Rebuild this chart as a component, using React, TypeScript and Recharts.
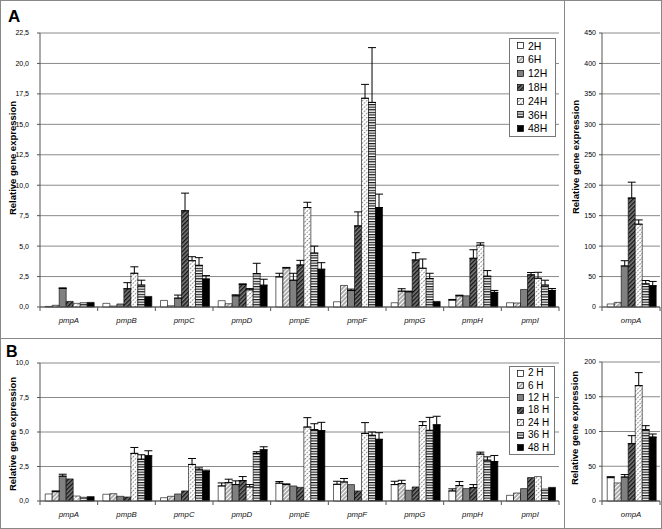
import React from "react";
import { BarChart, Bar, XAxis, YAxis, CartesianGrid, ErrorBar } from "recharts";

const FONT = '"Liberation Sans", Arial, sans-serif';

const genes = ["pmpA", "pmpB", "pmpC", "pmpD", "pmpE", "pmpF", "pmpG", "pmpH", "pmpI"];
const ompGenes = ["ompA"];
const legendA = ["2H", "6H", "12H", "18H", "24H", "36H", "48H"];
const legendB = ["2 H", "6 H", "12 H", "18 H", "24 H", "36 H", "48 H"];

const ticksA = [0, 2.5, 5, 7.5, 10, 12.5, 15, 17.5, 20, 22.5];
const ticksOmpA = [0, 50, 100, 150, 200, 250, 300, 350, 400, 450];
const ticksB = [0, 2.5, 5, 7.5, 10];
const ticksOmpB = [0, 50, 100, 150, 200];

// panel A, pmp genes (value, upper error)
const a2H = [0.05, 0.3, 0.54, 0.52, 2.47, 0.43, 0.35, 0.57, 0.35];
const a6H = [0.14, 0.08, 0.1, 0.27, 3.2, 1.77, 1.3, 0.92, 0.33];
const a12H = [1.52, 0.25, 0.73, 0.92, 2.2, 1.36, 1.25, 0.92, 1.44];
const a18H = [0.46, 1.5, 7.9, 1.85, 3.45, 6.66, 3.86, 4.0, 2.64];
const a24H = [0.3, 2.77, 3.8, 1.41, 8.17, 17.14, 3.18, 5.08, 2.36];
const a36H = [0.35, 1.8, 3.42, 2.74, 4.43, 16.8, 2.34, 2.53, 1.8];
const a48H = [0.38, 0.87, 2.3, 1.79, 3.1, 8.17, 0.46, 1.2, 1.36];
const a2HErr = [0, 0, 0, 0, 0.3, 0, 0, 0.05, 0];
const a6HErr = [0, 0, 0, 0, 0.05, 0, 0.2, 0.05, 0];
const a12HErr = [0.05, 0, 0.25, 0.08, 0.57, 0.11, 0.05, 0, 0];
const a18HErr = [0, 0.5, 1.45, 0.05, 0.38, 1.15, 0.6, 0.7, 0.19];
const a24HErr = [0, 0.53, 0.33, 0.1, 0.43, 1.14, 0.76, 0.19, 0.49];
const a36HErr = [0, 0.4, 0.63, 0.85, 0.57, 4.5, 0.43, 0.46, 0.4];
const a48HErr = [0, 0, 0.28, 0.49, 0.54, 1.1, 0, 0.16, 0.16];

// panel A, ompA
const aOmp = [5, 7.6, 67.4, 179, 136, 38, 35];
const aOmpErr = [0, 0, 8.6, 26, 7, 5.5, 7];

// panel B, pmp genes
const b2H = [0.51, 0.49, 0.24, 1.09, 1.29, 1.21, 1.19, 0.73, 0.41];
const b6H = [0.68, 0.53, 0.34, 1.33, 1.19, 1.38, 1.26, 1.12, 0.58];
const b12H = [1.8, 0.34, 0.51, 1.19, 1.09, 1.19, 0.78, 0.9, 0.9];
const b18H = [1.6, 0.29, 0.73, 1.48, 0.99, 0.73, 1.02, 0.97, 1.7];
const b24H = [0.36, 3.45, 2.65, 1.02, 5.36, 4.9, 5.47, 3.4, 1.77];
const b36H = [0.27, 3.03, 2.26, 3.45, 5.17, 4.76, 5.12, 2.96, 0.87];
const b48H = [0.32, 3.28, 2.14, 3.71, 5.1, 4.47, 5.52, 2.86, 0.99];
const b2HErr = [0, 0, 0, 0.22, 0.12, 0.22, 0.24, 0.15, 0];
const b6HErr = [0.05, 0, 0, 0.25, 0.05, 0.25, 0.24, 0.29, 0];
const b12HErr = [0.14, 0, 0, 0.27, 0, 0, 0, 0, 0];
const b18HErr = [0, 0, 0, 0.29, 0, 0, 0, 0.22, 0];
const b24HErr = [0, 0.43, 0.43, 0.17, 0.68, 0.78, 0.28, 0.14, 0];
const b36HErr = [0, 0.32, 0.14, 0.12, 0.43, 0.24, 0.94, 0.24, 0];
const b48HErr = [0, 0.36, 0.09, 0.22, 0.6, 0.48, 0.62, 0.44, 0];

// panel B, ompA
const bOmp = [33.6, 26, 34.5, 82.5, 166, 102.6, 92];
const bOmpErr = [1.4, 0, 3.5, 11.5, 18.7, 5.8, 4.4];

const fills = ["#ffffff", "url(#p6)", "#808080", "url(#p18)", "url(#p24)", "url(#p36)", "#000000"];

function buildRows(cats: string[], values: number[][], errs: number[][]) {
  return cats.map((gene, i) => {
    const row: any = { gene };
    values.forEach((v, s) => {
      row[`s${s}`] = v[i];
      row[`e${s}`] = errs[s][i] > 0 ? [0, errs[s][i]] : null;
    });
    return row;
  });
}

// omp arrays are per hour, one gene
const rowsA = buildRows(genes, [a2H, a6H, a12H, a18H, a24H, a36H, a48H],
  [a2HErr, a6HErr, a12HErr, a18HErr, a24HErr, a36HErr, a48HErr]);
const rowsB = buildRows(genes, [b2H, b6H, b12H, b18H, b24H, b36H, b48H],
  [b2HErr, b6HErr, b12HErr, b18HErr, b24HErr, b36HErr, b48HErr]);
const rowsOmpA = buildRows(ompGenes, aOmp.map((v) => [v]), aOmpErr.map((v) => [v]));
const rowsOmpB = buildRows(ompGenes, bOmp.map((v) => [v]), bOmpErr.map((v) => [v]));

const comma = (v: number) => v.toFixed(1).replace(".", ",");
const whole = (v: number) => String(v);

function GeneTick(props: any) {
  const { x, y, payload, index, visibleTicksCount } = props;
  const half = payload.offset ?? 0;
  const axisY = y - 10;
  return (
    <g>
      <line x1={x - half} x2={x - half} y1={axisY} y2={axisY + 4} stroke="#555" />
      {index === visibleTicksCount - 1 && (
        <line x1={x + half} x2={x + half} y1={axisY} y2={axisY + 4} stroke="#555" />
      )}
      <text x={x} y={y} dy="0.71em" textAnchor="middle" fontStyle="italic" fontSize={7.8} fontFamily={FONT} fill="#111">
        {payload.value}
      </text>
    </g>
  );
}

function Panel(p: {
  rows: any[]; ticks: number[]; fmt: (v: number) => string;
  left: number; top: number; width: number; height: number;
  yWidth: number; mTop: number; mRight: number; xHeight: number; frame?: boolean;
}) {
  const max = p.ticks[p.ticks.length - 1];
  return (
    <div style={{ position: "absolute", left: p.left, top: p.top }}>
      <BarChart width={p.width} height={p.height} data={p.rows}
        margin={{ top: p.mTop, right: p.mRight, bottom: 0, left: 0 }}
        barGap={0} barCategoryGap="9%">
        <CartesianGrid vertical={false} stroke="#8a8a8a" />
        <XAxis dataKey="gene" height={p.xHeight} interval={0} tickLine={false}
          tickSize={4} tickMargin={6} axisLine={{ stroke: "#555" }} tick={<GeneTick />} />
        <YAxis domain={[0, max]} ticks={p.ticks} width={p.yWidth} tickFormatter={p.fmt}
          interval={0} tickSize={3} tickMargin={p.frame ? 8 : 3} axisLine={{ stroke: "#555" }}
          tickLine={{ stroke: "#555" }}
          tick={{ fontSize: 7, fill: "#000", fontFamily: FONT }} />
        {p.frame && (
          <YAxis yAxisId="frame" orientation="right" width={0} tick={false} tickLine={false}
            axisLine={{ stroke: "#8a8a8a" }} />
        )}
        {fills.map((f, s) => (
          <Bar key={s} dataKey={`s${s}`} fill={f} stroke="#000" strokeWidth={0.6} isAnimationActive={false}>
            <ErrorBar dataKey={`e${s}`} direction="y" width={4} stroke="#000" strokeWidth={1} />
          </Bar>
        ))}
      </BarChart>
    </div>
  );
}

function Legend(p: { names: string[]; left: number; top: number; width: number; rowH: number; size: number }) {
  return (
    <div style={{
      position: "absolute", left: p.left, top: p.top, width: p.width,
      border: "1px solid #777", background: "#fff", boxSizing: "border-box",
      fontFamily: FONT, fontSize: p.size,
    }}>
      {p.names.map((n, i) => (
        <div key={n} style={{ height: p.rowH, display: "flex", alignItems: "center", paddingLeft: 7 }}>
          <svg width={7} height={7} style={{ marginRight: 4, flexShrink: 0 }}>
            <rect x={0.5} y={0.5} width={6} height={6} fill={fills[i]} stroke="#000" strokeWidth={0.7} />
          </svg>
          <span style={{ lineHeight: 1 }}>{n}</span>
        </div>
      ))}
    </div>
  );
}

function YLabel(p: { x: number; y: number }) {
  return (
    <div style={{
      position: "absolute", left: p.x, top: p.y, transform: "translate(-50%, -50%) rotate(-90deg)",
      whiteSpace: "nowrap", fontFamily: FONT, fontWeight: "bold", fontSize: 9.5, lineHeight: 1,
    }}>
      Relative gene expression
    </div>
  );
}

export default function App() {
  return (
    <div style={{ position: "absolute", left: 0, top: 0, width: 662, height: 529, background: "#fff", overflow: "hidden" }}>
      <svg width={0} height={0} style={{ position: "absolute" }}>
        <defs>
          <pattern id="p6" width={3} height={3} patternUnits="userSpaceOnUse" patternTransform="rotate(45)">
            <rect width={3} height={3} fill="#a8a8a8" />
            <rect width={1.1} height={3} fill="#ffffff" />
          </pattern>
          <pattern id="p18" width={3} height={3} patternUnits="userSpaceOnUse" patternTransform="rotate(45)">
            <rect width={3} height={3} fill="#7c7c7c" />
            <rect width={1.4} height={3} fill="#151515" />
          </pattern>
          <pattern id="p24" width={3} height={3} patternUnits="userSpaceOnUse" patternTransform="rotate(45)">
            <rect width={3} height={3} fill="#ffffff" />
            <rect width={1} height={1.8} fill="#8a8a8a" />
          </pattern>
          <pattern id="p36" width={2.6} height={2.6} patternUnits="userSpaceOnUse">
            <rect width={2.6} height={2.6} fill="#ffffff" />
            <rect width={2.6} height={1.2} fill="#151515" />
          </pattern>
        </defs>
      </svg>

      <Panel rows={rowsA} ticks={ticksA} fmt={comma} left={0} top={0} width={562} height={338}
        yWidth={40} mTop={33} mRight={3} xHeight={31} frame />
      <Panel rows={rowsOmpA} ticks={ticksOmpA} fmt={whole} left={564} top={0} width={98} height={338}
        yWidth={38} mTop={33} mRight={2} xHeight={31} />
      <Panel rows={rowsB} ticks={ticksB} fmt={comma} left={0} top={339} width={562} height={190}
        yWidth={40} mTop={24} mRight={3} xHeight={28} frame />
      <Panel rows={rowsOmpB} ticks={ticksOmpB} fmt={whole} left={564} top={339} width={98} height={190}
        yWidth={38} mTop={23} mRight={2} xHeight={28} />

      <Legend names={legendA} left={509} top={38} width={47} rowH={13.8} size={10.5} />
      <Legend names={legendB} left={509} top={366} width={46} rowH={12.4} size={10} />

      <YLabel x={12.5} y={158} />
      <YLabel x={575.5} y={156.5} />
      <YLabel x={12.5} y={434} />
      <YLabel x={574.5} y={428} />

      <div style={{ position: "absolute", left: 8, top: 8, fontFamily: FONT, fontWeight: "bold", fontSize: 17, lineHeight: 1 }}>A</div>
      <div style={{ position: "absolute", left: 6, top: 344, fontFamily: FONT, fontWeight: "bold", fontSize: 16, lineHeight: 1 }}>B</div>

      <div style={{ position: "absolute", inset: 0, border: "1px solid #888", pointerEvents: "none" }} />
      <div style={{ position: "absolute", left: 0, top: 338, width: 662, height: 1, background: "#888" }} />
      <div style={{ position: "absolute", left: 564, top: 0, width: 1, height: 529, background: "#888" }} />
    </div>
  );
}
